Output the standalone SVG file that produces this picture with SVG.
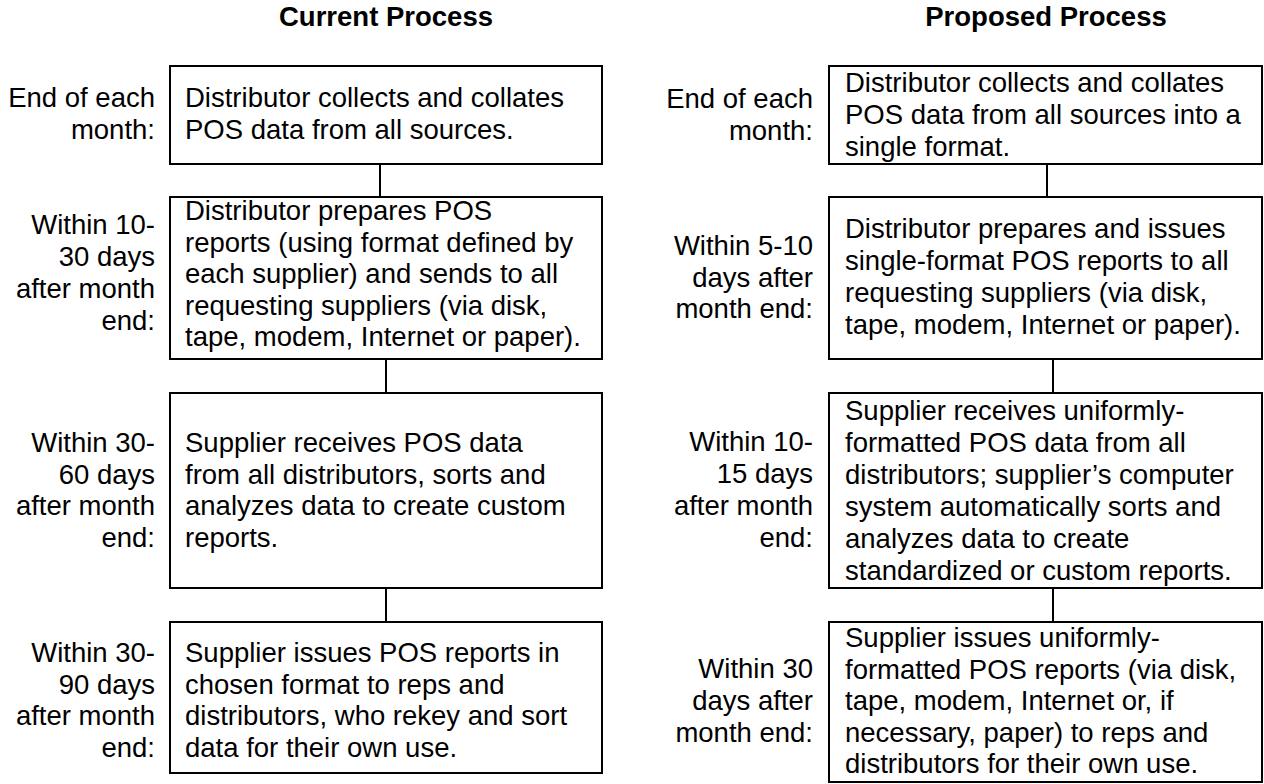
<svg xmlns="http://www.w3.org/2000/svg" width="1264" height="784" viewBox="0 0 1264 784">
<style>
text{font-family:"Liberation Sans",Arial,sans-serif;font-size:27.5px;fill:#000}
.t{font-weight:bold;text-anchor:middle}
.l{text-anchor:end}
.b{fill:#fff;stroke:#000;stroke-width:2}
.c{stroke:#000;stroke-width:2;fill:none}
</style>
<rect width="1264" height="784" fill="#fff"/>
<text class="t" x="386" y="26">Current Process</text>
<text class="t" x="1046" y="26">Proposed Process</text>
<g id="connectors">
<line class="c" x1="380" y1="164" x2="380" y2="197"/>
<line class="c" x1="386" y1="359" x2="386" y2="393"/>
<line class="c" x1="386" y1="588" x2="386" y2="622"/>
<line class="c" x1="1047" y1="164" x2="1047" y2="197"/>
<line class="c" x1="1053" y1="359" x2="1053" y2="393"/>
<line class="c" x1="1053" y1="588" x2="1053" y2="622"/>
</g>
<g id="c1">
<rect class="b" x="170" y="66" width="432" height="98"/>
<text class="l"><tspan x="155" y="107">End of each</tspan><tspan x="155" y="139">month:</tspan></text>
<text><tspan x="185" y="107">Distributor collects and collates</tspan><tspan x="185" y="139">POS data from all sources.</tspan></text>
</g>
<g id="c2">
<rect class="b" x="170" y="197" width="432" height="162"/>
<text class="l"><tspan x="155" y="234">Within 10-</tspan><tspan x="155" y="266">30 days</tspan><tspan x="155" y="298">after month</tspan><tspan x="155" y="330">end:</tspan></text>
<text><tspan x="185" y="220">Distributor prepares POS</tspan><tspan x="185" y="251.5">reports (using format defined by</tspan><tspan x="185" y="283">each supplier) and sends to all</tspan><tspan x="185" y="314.5">requesting suppliers (via disk,</tspan><tspan x="185" y="346">tape, modem, Internet or paper).</tspan></text>
</g>
<g id="c3">
<rect class="b" x="170" y="393" width="432" height="195"/>
<text class="l"><tspan x="155" y="452">Within 30-</tspan><tspan x="155" y="483.5">60 days</tspan><tspan x="155" y="515">after month</tspan><tspan x="155" y="546.5">end:</tspan></text>
<text><tspan x="185" y="452">Supplier receives POS data</tspan><tspan x="185" y="483.5">from all distributors, sorts and</tspan><tspan x="185" y="515">analyzes data to create custom</tspan><tspan x="185" y="546.5">reports.</tspan></text>
</g>
<g id="c4">
<rect class="b" x="170" y="622" width="432" height="151"/>
<text class="l"><tspan x="155" y="662">Within 30-</tspan><tspan x="155" y="693.5">90 days</tspan><tspan x="155" y="725">after month</tspan><tspan x="155" y="756.5">end:</tspan></text>
<text><tspan x="185" y="662">Supplier issues POS reports in</tspan><tspan x="185" y="693.5">chosen format to reps and</tspan><tspan x="185" y="725">distributors, who rekey and sort</tspan><tspan x="185" y="756.5">data for their own use.</tspan></text>
</g>
<g id="p1">
<rect class="b" x="829" y="66" width="433" height="98"/>
<text class="l"><tspan x="813" y="108">End of each</tspan><tspan x="813" y="140">month:</tspan></text>
<text><tspan x="845" y="92">Distributor collects and collates</tspan><tspan x="845" y="124">POS data from all sources into a</tspan><tspan x="845" y="156">single format.</tspan></text>
</g>
<g id="p2">
<rect class="b" x="829" y="197" width="433" height="162"/>
<text class="l"><tspan x="813" y="255">Within 5-10</tspan><tspan x="813" y="287">days after</tspan><tspan x="813" y="318">month end:</tspan></text>
<text><tspan x="845" y="238">Distributor prepares and issues</tspan><tspan x="845" y="270">single-format POS reports to all</tspan><tspan x="845" y="302">requesting suppliers (via disk,</tspan><tspan x="845" y="334">tape, modem, Internet or paper).</tspan></text>
</g>
<g id="p3">
<rect class="b" x="829" y="393" width="433" height="195"/>
<text class="l"><tspan x="813" y="451">Within 10-</tspan><tspan x="813" y="483">15 days</tspan><tspan x="813" y="515">after month</tspan><tspan x="813" y="547">end:</tspan></text>
<text><tspan x="845" y="420">Supplier receives uniformly-</tspan><tspan x="845" y="452">formatted POS data from all</tspan><tspan x="845" y="484">distributors; supplier’s computer</tspan><tspan x="845" y="516">system automatically sorts and</tspan><tspan x="845" y="548">analyzes data to create</tspan><tspan x="845" y="580">standardized or custom reports.</tspan></text>
</g>
<g id="p4">
<rect class="b" x="829" y="622" width="433" height="160"/>
<text class="l"><tspan x="813" y="678">Within 30</tspan><tspan x="813" y="710">days after</tspan><tspan x="813" y="742">month end:</tspan></text>
<text><tspan x="845" y="647">Supplier issues uniformly-</tspan><tspan x="845" y="678.5">formatted POS reports (via disk,</tspan><tspan x="845" y="710">tape, modem, Internet or, if</tspan><tspan x="845" y="741.5">necessary, paper) to reps and</tspan><tspan x="845" y="773">distributors for their own use.</tspan></text>
</g>
</svg>
